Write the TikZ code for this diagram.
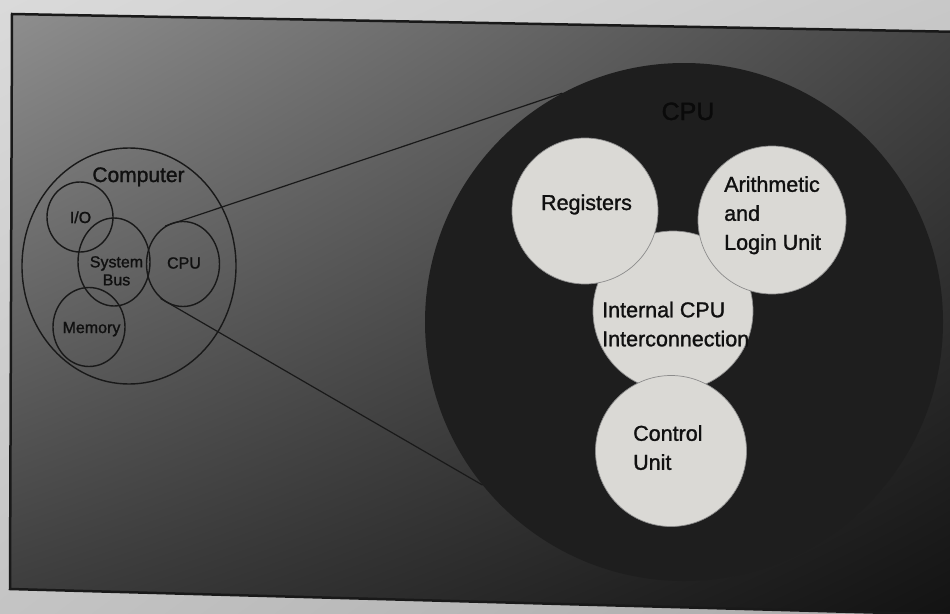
\documentclass[tikz,border=0pt]{standalone}
\usepackage{fontspec}
\setmainfont{Liberation Sans}
\newfontfamily\inkfont{Liberation Sans}[FakeBold=1.3]
\usetikzlibrary{shapes.geometric,shadings}
\definecolor{ink}{HTML}{101010}
\definecolor{paper}{HTML}{DAD9D5}
\definecolor{cpudark}{HTML}{1E1E1E}
\definecolor{cpuink}{HTML}{0A0A0A}
\definecolor{rim}{HTML}{8C8C8C}
\definecolor{outUL}{HTML}{DADADA}
\definecolor{outUR}{HTML}{C8C8C8}
\definecolor{outLL}{HTML}{C4C4C4}
\definecolor{outLR}{HTML}{AAAAAA}
\definecolor{inUL}{HTML}{8E8E8E}
\definecolor{inUR}{HTML}{444444}
\definecolor{inLL}{HTML}{3A3A3A}
\definecolor{inLR}{HTML}{121212}
\begin{document}
\begin{tikzpicture}[x=1pt,y=-1pt,
  outline/.style={draw=black!90, line width=1.4pt, inner sep=0pt},
  smallell/.style={outline, ellipse},
  whitec/.style={circle, fill=paper, draw=rim, line width=0.7pt, inner sep=0pt},
  smalltxt/.style={font=\inkfont\fontsize{16}{18}\selectfont, text=ink, inner sep=0pt, align=center},
  bigtxt/.style={font=\inkfont\fontsize{21.5}{29}\selectfont, text=ink, inner sep=0pt, align=left},
  zoomline/.style={draw=black!90, line width=1.2pt}]
\useasboundingbox (0,0) rectangle (950,613);
\clip (0,0) rectangle (950,613);
% paper outside the frame
\shade[upper left=outUL, upper right=outUR, lower left=outLL, lower right=outLR]
  (0,0) rectangle (950,613);
% frame interior (photo lighting)
\shade[upper left=inUL, upper right=inUR, lower left=inLL, lower right=inLR]
  (12,14) -- (965,32) -- (965,615) -- (10,589) -- cycle;
\draw[line width=2.5pt, black!90] (12,14) -- (965,32) -- (965,615) -- (10,589) -- cycle;

% computer overview
\node[smallell, minimum width=214pt, minimum height=236pt] (computer) at (129,266) {};
\node[smallell, minimum width=66pt, minimum height=70pt] (io) at (80,217) {};
\node[smallell, minimum width=72pt, minimum height=88pt] (bus) at (114,262) {};
\node[smallell, minimum width=73pt, minimum height=85pt] (cpu) at (183,264) {};
\node[smallell, minimum width=72pt, minimum height=79pt] (mem) at (89,327) {};

\node[smalltxt, font=\inkfont\fontsize{21}{24}\selectfont, anchor=base] (tcomp) at (138.5,182) {Computer};
\node[smalltxt, anchor=base] (tio) at (80.5,223) {I/O};
\node[smalltxt, anchor=north] (tbus) at (116.5,256) {System\\Bus};
\node[smalltxt, anchor=base] (tcpu) at (184,268.5) {CPU};
\node[smalltxt, anchor=base] (tmem) at (91.5,333) {Memory};

% enlarged CPU
\node[circle, fill=cpudark, minimum size=518pt, inner sep=0pt] (cpubig) at (684,322) {};
\node[font=\inkfont\fontsize{25}{28}\selectfont, text=cpuink, inner sep=0pt, anchor=base] (tcpubig) at (688,120) {CPU};

\draw[zoomline] (cpu.115) -- (cpubig.118);
\draw[zoomline] (cpu.237) -- (cpubig.219);

\node[whitec, minimum size=160pt] (icc) at (673,311) {};
\node[whitec, minimum size=146pt] (reg) at (585,211) {};
\node[whitec, minimum size=148pt] (alu) at (772,220) {};
\node[whitec, minimum size=151pt] (cu) at (671,451) {};

\node[bigtxt, anchor=base] (treg) at (586.5,210) {Registers};
\node[bigtxt, anchor=north west] (talu) at (724,176) {Arithmetic\\and\\Login Unit};
\node[bigtxt, anchor=north west] (ticc) at (602,301.5) {Internal CPU\\Interconnection};
\node[bigtxt, anchor=north west] (tcu) at (633,425) {Control\\Unit};
\end{tikzpicture}
\end{document}
